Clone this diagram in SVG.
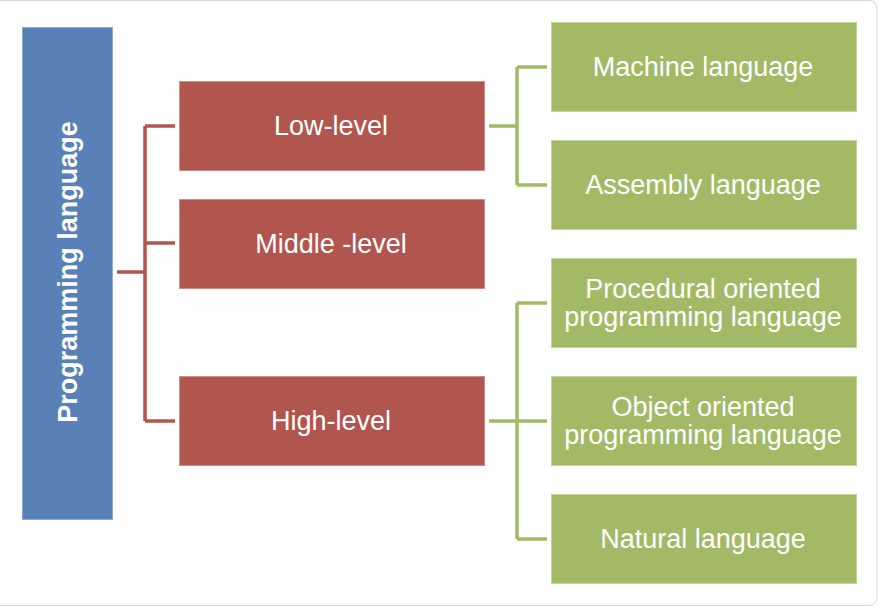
<svg xmlns="http://www.w3.org/2000/svg" width="880" height="609" viewBox="0 0 880 609">
<style>
.blue{fill:#5A80B8;stroke:#8FAAD6;stroke-width:1}
.red{fill:#B0564F;stroke:#D08C86;stroke-width:1}
.green{fill:#A2BA66;stroke:#C3D49A;stroke-width:1}
.t{font-family:"Liberation Sans",Arial,sans-serif;font-size:27px;fill:#FFFFFF;text-anchor:middle;dominant-baseline:central}
.tb{font-weight:bold}
.cr{fill:none;stroke:#B0564F;stroke-width:3.5}
.cg{fill:none;stroke:#A2BA66;stroke-width:3.5}
</style>
<rect x="-10" y="0.5" width="887" height="605" rx="8" fill="#FFFFFF" stroke="#D6D6D6" stroke-width="1"/>
<g id="connectors">
<path class="cr" d="M117,272 H145 M145,126 V421 M145,126 H175 M145,243 H175 M145,421 H175"/>
<path class="cg" d="M489,126 H517 M517,67 V185 M517,67 H547 M517,185 H547"/>
<path class="cg" d="M489,421 H547 M517,303 V539 M517,303 H547 M517,539 H547"/>
</g>
<g id="node-programming-language">
<rect class="blue" x="22.5" y="27.5" width="90" height="492"/>
<text class="t tb" transform="translate(68,272) rotate(-90)">Programming language</text>
</g>
<g id="node-low-level">
<rect class="red" x="179.5" y="81.5" width="305" height="89"/>
<text class="t" x="331" y="126">Low-level</text>
</g>
<g id="node-middle-level">
<rect class="red" x="179.5" y="199.5" width="305" height="89"/>
<text class="t" x="331" y="244">Middle -level</text>
</g>
<g id="node-high-level">
<rect class="red" x="179.5" y="376.5" width="305" height="89"/>
<text class="t" x="331" y="421">High-level</text>
</g>
<g id="node-machine">
<rect class="green" x="551.5" y="22.5" width="305" height="89"/>
<text class="t" x="703" y="67">Machine language</text>
</g>
<g id="node-assembly">
<rect class="green" x="551.5" y="140.5" width="305" height="89"/>
<text class="t" x="703" y="185">Assembly language</text>
</g>
<g id="node-procedural">
<rect class="green" x="551.5" y="258.5" width="305" height="89"/>
<text class="t" x="703" y="289">Procedural oriented</text>
<text class="t" x="703" y="317">programming language</text>
</g>
<g id="node-object">
<rect class="green" x="551.5" y="376.5" width="305" height="89"/>
<text class="t" x="703" y="407">Object oriented</text>
<text class="t" x="703" y="435">programming language</text>
</g>
<g id="node-natural">
<rect class="green" x="551.5" y="494.5" width="305" height="89"/>
<text class="t" x="703" y="539">Natural language</text>
</g>
</svg>
